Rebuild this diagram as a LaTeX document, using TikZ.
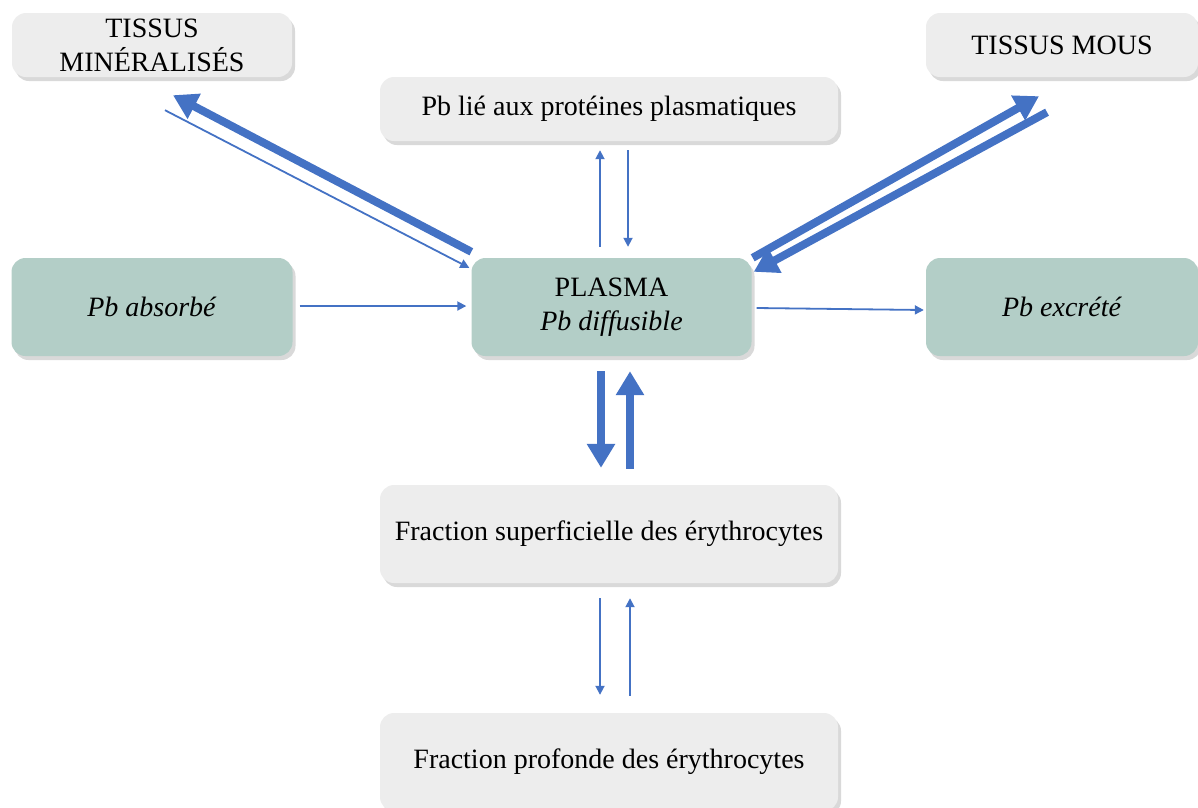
\documentclass[tikz,border=0pt]{standalone}
\usepackage{fontspec}
\setmainfont{Liberation Serif}
\usetikzlibrary{shapes,arrows.meta,positioning,calc,shadows}
\usepackage{xcolor}
\definecolor{boxgrey}{HTML}{EDEDED}
\definecolor{boxteal}{HTML}{B3CEC7}
\definecolor{flowblue}{HTML}{4472C4}
\tikzset{
    block/.style={rectangle, fill=boxgrey, rounded corners=14pt, minimum width=458pt, minimum height=98pt, align=center, font=\fontsize{28}{34}\selectfont, drop shadow={shadow xshift=3pt, shadow yshift=-4pt, opacity=0.3}},
    smallblock/.style={block, minimum width=280pt, minimum height=64pt},
    pool/.style={block, fill=boxteal, minimum width=280pt},
    line/.style={draw=flowblue, line width=1.8pt, -{Triangle[width=9pt,length=9pt]}},
    bigline/.style={draw=flowblue, line width=8pt, -{Triangle[width=27pt,length=24pt]}}
}
\begin{document}
\begin{tikzpicture}[x=1pt, y=1pt, node distance=200pt]
    \useasboundingbox (0,0) rectangle (1198,-807);
    \node [pool] (plasma) at (611.5,-307) {PLASMA\\\textit{Pb diffusible}};
    \node [pool, left of=plasma, node distance=459.5pt, minimum width=281pt] (absorbe) {\textit{Pb absorbé}};
    \node [pool, right of=plasma, node distance=450.5pt, minimum width=272pt] (excrete) {\textit{Pb excrété}};
    \node [smallblock, above of=absorbe, node distance=262pt] (mineral) {TISSUS\\MINÉRALISÉS};
    \node [smallblock, above of=excrete, node distance=262pt, minimum width=272pt] (mous) {TISSUS MOUS};
    \node [block, above of=plasma, node distance=198pt, xshift=-2.5pt, minimum height=64pt] (lie) {Pb lié aux protéines plasmatiques};
    \node [block, below of=plasma, node distance=227pt, xshift=-2.5pt] (sup) {Fraction superficielle des érythrocytes};
    \node [block, below of=sup, node distance=228pt] (prof) {Fraction profonde des érythrocytes};

    % entree et sortie
    \path [line] ([xshift=7pt,yshift=1pt]absorbe.east) -- ([xshift=-5pt,yshift=1pt]plasma.west);
    \path [line] ([xshift=5pt,yshift=-1pt]plasma.east) -- ([xshift=-2pt,yshift=-3pt]excrete.west);
    % tissus
    \path [bigline] ([yshift=6pt]plasma.north west) -- ([xshift=21pt,yshift=-18pt]mineral.south);
    \path [line] ([xshift=13pt,yshift=-33pt]mineral.south) -- ([xshift=-2pt,yshift=-10pt]plasma.north west);
    \path [bigline] ([xshift=1pt]plasma.north east) -- ([xshift=-23pt,yshift=-19pt]mous.south);
    \path [bigline] ([xshift=-15pt,yshift=-35pt]mous.south) -- ([xshift=2pt,yshift=-14pt]plasma.north east);
    % proteines
    \path [line] ([xshift=-11.5pt,yshift=11pt]plasma.north) -- ([xshift=-9pt,yshift=-9pt]lie.south);
    \path [line] ([xshift=19pt,yshift=-9pt]lie.south) -- ([xshift=16.5pt,yshift=11pt]plasma.north);
    % erythrocytes
    \path [bigline] ([xshift=-10.5pt,yshift=-15pt]plasma.south) -- ([xshift=-8pt,yshift=17pt]sup.north);
    \path [bigline] ([xshift=21pt,yshift=16pt]sup.north) -- ([xshift=18.5pt,yshift=-15pt]plasma.south);
    \path [line] ([xshift=-9pt,yshift=-15pt]sup.south) -- ([xshift=-9pt,yshift=18pt]prof.north);
    \path [line] ([xshift=21pt,yshift=17pt]prof.north) -- ([xshift=21pt,yshift=-15pt]sup.south);
\end{tikzpicture}
\end{document}
